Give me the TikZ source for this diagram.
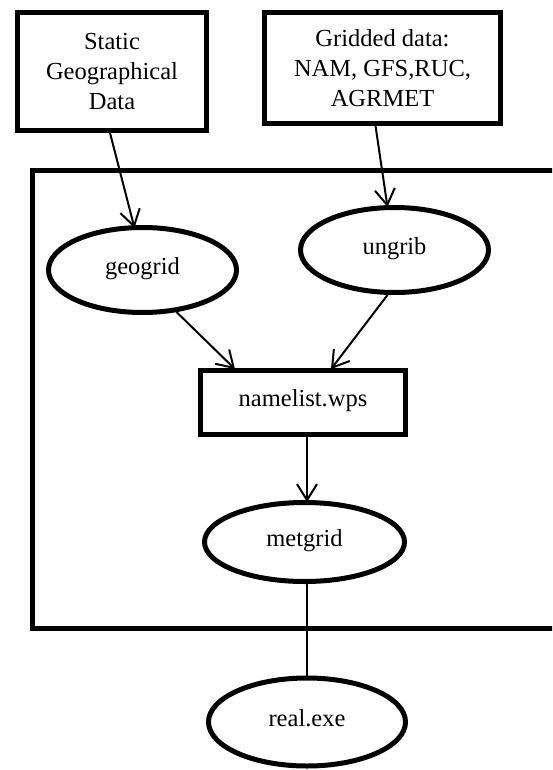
\documentclass[tikz,border=0pt]{standalone}
\usepackage{fontspec}
\setmainfont{Liberation Serif}
\usetikzlibrary{shapes.geometric,arrows.meta}
\begin{document}
\begin{tikzpicture}[x=1pt,y=-1pt,
  txt/.style={font=\fontsize{24.5}{30}\selectfont, align=center, inner sep=0pt},
  one/.style={text height=12pt, text depth=4pt},
  boxnode/.style={txt, draw, line width=4.75pt, rectangle},
  procnode/.style={txt, one, draw, line width=5pt, ellipse},
  flow/.style={line width=2pt, -{Straight Barb[length=16pt,width=20pt]}},
  plain/.style={line width=2pt},
  frame/.style={line width=4.75pt}]
\useasboundingbox[fill=white] (0,0) rectangle (552,770);
\begin{scope}
\clip (0,0) rectangle (552,770);
% outer frame
\draw[frame] (32.4,170.4) rectangle (600,628.5);
\end{scope}
% nodes
\node[boxnode, minimum width=189pt, minimum height=118pt] (static) at (112,71.5) {Static\\Geographical\\Data};
\node[boxnode, minimum width=236pt, minimum height=111pt] (grid) at (382.5,68) {Gridded data:\\NAM, GFS,RUC,\\AGRMET};
\node[procnode, minimum width=188pt, minimum height=85pt] (geogrid) at (142.5,270) {geogrid};
\node[procnode, minimum width=188pt, minimum height=85pt] (ungrib) at (394.5,250) {ungrib};
\node[boxnode, one, minimum width=205pt, minimum height=64pt] (namelist) at (303,402.5) {namelist.wps};
\node[procnode, minimum width=200pt, minimum height=79pt] (metgrid) at (304.5,542) {metgrid};
\node[procnode, minimum width=197pt, minimum height=88pt] (real) at (307,722) {real.exe};
% connectors
\draw[flow] ([xshift=-2pt]static.south) -- ([xshift=-8pt,yshift=-3pt]geogrid.north);
\draw[flow] ([xshift=-7pt]grid.south) -- ([xshift=-7pt,yshift=-2pt]ungrib.north);
\draw[flow] (geogrid.-51) -- ([xshift=-68pt,yshift=-1pt]namelist.north);
\draw[flow] ([xshift=-7pt]ungrib.south) -- ([xshift=28pt,yshift=-1pt]namelist.north);
\draw[flow] ([xshift=4pt]namelist.south) -- ([xshift=2.5pt,yshift=-2pt]metgrid.north);
\draw[plain] ([xshift=2.5pt]metgrid.south) -- (real.north);
\end{tikzpicture}
\end{document}
